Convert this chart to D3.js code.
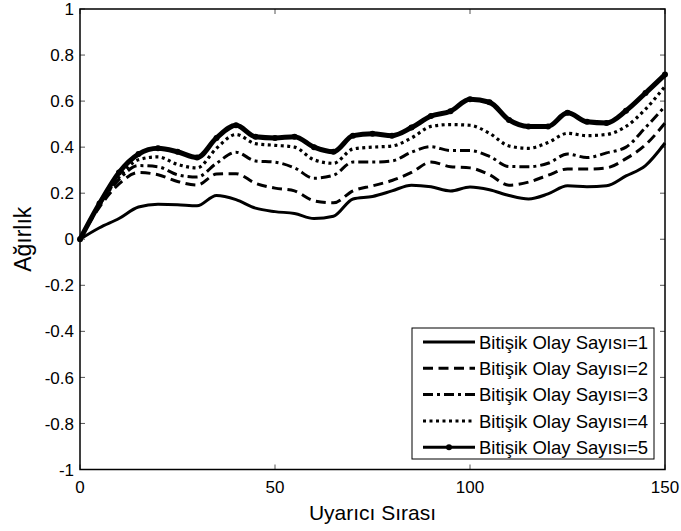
<html>
<head>
    <style>
        body { margin: 0; background: #fff; }
        text { font-family: Arial, "Liberation Sans", sans-serif; }
    </style>
    <script src="https://d3js.org/d3.v7.min.js"></script>
</head>
<body>
    <svg width=681 height=531></svg>
</body>
<script>

    // sample positions along the x axis (Uyarıcı Sırası)
    const steps = [0, 5, 10, 15, 20, 25, 30, 35, 40, 45, 50, 55, 60, 65, 70, 75,
        80, 85, 90, 95, 100, 105, 110, 115, 120, 125, 130, 135, 140, 145, 150];

    // values, one array per legend entry
    const s1 = [0, 0.05, 0.09, 0.14, 0.152, 0.15, 0.145, 0.19, 0.172, 0.135, 0.12, 0.112, 0.09, 0.1, 0.175, 0.186,
        0.21, 0.235, 0.228, 0.21, 0.227, 0.215, 0.19, 0.175, 0.197, 0.232, 0.228, 0.232, 0.275, 0.32, 0.418];
    const s2 = [0, 0.14, 0.24, 0.29, 0.28, 0.251, 0.235, 0.283, 0.285, 0.243, 0.222, 0.21, 0.167, 0.158, 0.21, 0.232,
        0.255, 0.29, 0.335, 0.315, 0.31, 0.28, 0.235, 0.248, 0.278, 0.305, 0.305, 0.31, 0.35, 0.41, 0.505];
    const s3 = [0, 0.15, 0.26, 0.32, 0.315, 0.28, 0.27, 0.33, 0.378, 0.34, 0.335, 0.31, 0.265, 0.278, 0.335, 0.335,
        0.34, 0.378, 0.402, 0.385, 0.385, 0.36, 0.316, 0.315, 0.33, 0.37, 0.355, 0.375, 0.4, 0.485, 0.577];
    const s4 = [0, 0.15, 0.27, 0.345, 0.358, 0.325, 0.31, 0.395, 0.455, 0.415, 0.408, 0.4, 0.345, 0.33, 0.392, 0.4,
        0.405, 0.44, 0.49, 0.498, 0.495, 0.46, 0.405, 0.395, 0.42, 0.46, 0.45, 0.455, 0.49, 0.565, 0.664];
    const s5 = [0, 0.155, 0.29, 0.37, 0.395, 0.38, 0.355, 0.44, 0.495, 0.445, 0.44, 0.445, 0.4, 0.38, 0.45, 0.458,
        0.45, 0.485, 0.535, 0.556, 0.608, 0.595, 0.518, 0.49, 0.49, 0.549, 0.51, 0.505, 0.558, 0.635, 0.715];

    const seriesNames = ["Bitişik Olay Sayısı=1", "Bitişik Olay Sayısı=2", "Bitişik Olay Sayısı=3",
        "Bitişik Olay Sayısı=4", "Bitişik Olay Sayısı=5"];

    const xTicks = [0, 50, 100, 150];
    const yTicks = [-1, -0.8, -0.6, -0.4, -0.2, 0, 0.2, 0.4, 0.6, 0.8, 1];

    const plotLeft = 80, plotRight = 665, plotTop = 9, plotBottom = 469.5;

    const x = d3.scaleLinear().domain([0, 150]).range([plotLeft, plotRight]);
    const y = d3.scaleLinear().domain([-1, 1]).range([plotBottom, plotTop]);

    const styles = [
        { dash: null, width: 3 },
        { dash: "10,5.5", width: 3 },
        { dash: "10,4,3,4", width: 3 },
        { dash: "3,3.5", width: 3.2 },
        { dash: null, width: 5, marker: true }
    ];

    const svg = d3.select("svg");

    // ticks, inward, on all four sides
    const tickLen = 5;
    const ticks = svg.append("g").attr("stroke", "#555").attr("stroke-width", 1);
    yTicks.forEach(t => {
        ticks.append("line").attr("x1", plotLeft).attr("x2", plotLeft + tickLen).attr("y1", y(t)).attr("y2", y(t));
        ticks.append("line").attr("x1", plotRight).attr("x2", plotRight - tickLen).attr("y1", y(t)).attr("y2", y(t));
    });
    xTicks.forEach(t => {
        ticks.append("line").attr("x1", x(t)).attr("x2", x(t)).attr("y1", plotBottom).attr("y2", plotBottom - tickLen);
        ticks.append("line").attr("x1", x(t)).attr("x2", x(t)).attr("y1", plotTop).attr("y2", plotTop + tickLen);
    });

    // tick labels (plain hyphen for negatives, like the original)
    svg.append("g").selectAll("text")
        .data(yTicks)
        .join("text")
        .attr("x", plotLeft - 6)
        .attr("y", d => y(d))
        .attr("dy", "0.36em")
        .attr("text-anchor", "end")
        .style("font-size", "17px")
        .text(d => String(d));

    svg.append("g").selectAll("text")
        .data(xTicks)
        .join("text")
        .attr("x", d => x(d))
        .attr("y", 493)
        .attr("text-anchor", "middle")
        .style("font-size", "17px")
        .text(d => d);

    // curves
    const line = d3.line()
        .x((d, i) => x(steps[i]))
        .y(d => y(d))
        .curve(d3.curveMonotoneX);

    const all = [s1, s2, s3, s4, s5];
    all.forEach((s, k) => {
        svg.append("path")
            .datum(s)
            .attr("d", line)
            .attr("fill", "none")
            .attr("stroke", "#000")
            .attr("stroke-width", styles[k].width)
            .attr("stroke-dasharray", styles[k].dash);
    });
    svg.append("g").selectAll("circle")
        .data(s5)
        .join("circle")
        .attr("cx", (d, i) => x(steps[i]))
        .attr("cy", d => y(d))
        .attr("r", 3)
        .attr("fill", "#000");

    // frame
    svg.append("rect")
        .attr("x", plotLeft).attr("y", plotTop)
        .attr("width", plotRight - plotLeft).attr("height", plotBottom - plotTop)
        .attr("fill", "none").attr("stroke", "#000").attr("stroke-width", 1.5);

    // axis titles
    svg.append("text")
        .attr("x", (plotLeft + plotRight) / 2)
        .attr("y", 520)
        .attr("text-anchor", "middle")
        .style("font-size", "21px")
        .text("Uyarıcı Sırası");

    svg.append("text")
        .attr("transform", `translate(31,${(plotTop + plotBottom) / 2}) rotate(-90)`)
        .attr("text-anchor", "middle")
        .style("font-size", "23px")
        .text("Ağırlık");

    // legend
    const lg = svg.append("g");
    lg.append("rect")
        .attr("x", 412).attr("y", 328)
        .attr("width", 242).attr("height", 131)
        .attr("fill", "#fff").attr("stroke", "#000").attr("stroke-width", 1);

    seriesNames.forEach((name, k) => {
        const ry = 342 + k * 26.3;
        lg.append("line")
            .attr("x1", 423).attr("x2", 475)
            .attr("y1", ry).attr("y2", ry)
            .attr("stroke", "#000")
            .attr("stroke-width", 3)
            .attr("stroke-dasharray", styles[k].dash);
        if (styles[k].marker) {
            lg.append("circle").attr("cx", 449).attr("cy", ry).attr("r", 3).attr("fill", "#000");
        }
        lg.append("text")
            .attr("x", 479)
            .attr("y", ry)
            .attr("dy", "0.36em")
            .style("font-size", "18.5px")
            .text(name);
    });

</script>
</html>
